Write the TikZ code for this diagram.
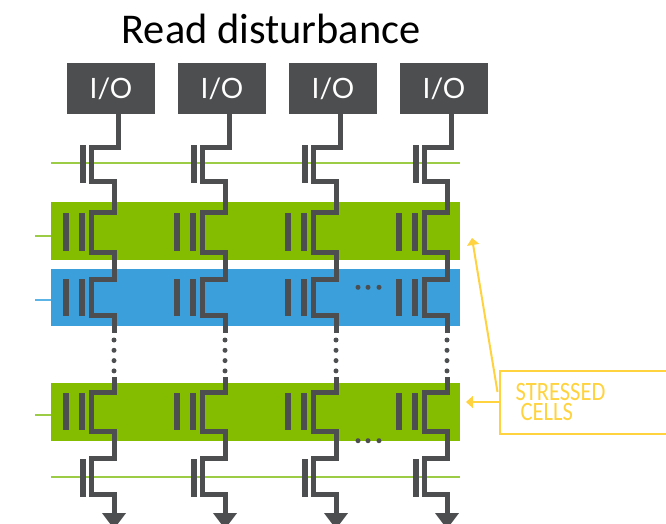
\documentclass[tikz,border=0pt]{standalone}
\usepackage{fontspec}
\setmainfont{Carlito}
\newfontfamily\iofont{Lato}
\newfontfamily\calloutfont[FakeStretch=0.85]{Carlito}
\usetikzlibrary{arrows.meta}

\definecolor{wiregray}{HTML}{4D4E50}
\definecolor{bandgreen}{HTML}{84BC00}
\definecolor{bandblue}{HTML}{3A9FDB}
\definecolor{linegreen}{HTML}{9CCB45}
\definecolor{lineblue}{HTML}{5CB3E6}
\definecolor{noteyellow}{HTML}{FFD33F}

\tikzset{
  iobox/.style={fill=wiregray, text=white, minimum width=88, minimum height=51, inner sep=0,
    font=\iofont\fontsize{28}{30}\selectfont},
  band/.style={minimum width=409, minimum height=58, inner sep=0},
  gatebar/.style={fill=wiregray, minimum width=6, minimum height=37.5, inner sep=0},
  wire/.style={draw=wiregray, line width=5, miter limit=10},
  wordline/.style={draw=linegreen, line width=2},
  dotline/.style={draw=wiregray, line width=5, line cap=round, dash pattern=on 0pt off 10.3pt},
  dotmark/.style={fill=wiregray, circle, minimum size=5, inner sep=0},
  notearrow/.style={draw=noteyellow, line width=2, -{Triangle[width=12,length=7]}},
}

\begin{document}
\begin{tikzpicture}[x=1pt, y=-1pt]
  \useasboundingbox (0,0) rectangle (666,523);
  \node (title) at (271,29) {\fontsize{42.4}{46}\selectfont Read disturbance};

  % word lines and bands
  \coordinate (wlTop) at (51,163);
  \coordinate (wlBot) at (51,477);
  \coordinate (stubA) at (35,236);
  \coordinate (stubB) at (35,300);
  \coordinate (stubC) at (35,415);
  \draw[wordline] (wlTop) -- ++(409,0);
  \draw[wordline] (wlBot) -- ++(409,0);
  \node[band, fill=bandgreen] (bandA) at (255.5,230.6) {};
  \node[band, fill=bandblue, minimum height=57.3] (bandB) at (255.5,297.4) {};
  \node[band, fill=bandgreen] (bandC) at (255.5,411.7) {};
  \draw[wordline] (stubA) -- (stubA -| bandA.west);
  \draw[wordline, draw=lineblue] (stubB) -- (stubB -| bandB.west);
  \draw[wordline] (stubC) -- (stubC -| bandC.west);

  % bit lines
  \foreach \c/\x in {1/0, 2/111, 3/222, 4/333} {
    \begin{scope}[xshift=\x]
      \node[iobox] (io\c) at (111,88.5) {I/O};
      \node[gatebar] (sgTop\c) at (83,164) {};
      \node[gatebar] (sgBot\c) at (83,477.8) {};
      \node[gatebar] (cellAl\c) at (66.3,232) {};
      \node[gatebar] (cellAr\c) at (82,232) {};
      \node[gatebar] (cellBl\c) at (66.3,297.5) {};
      \node[gatebar] (cellBr\c) at (82,297.5) {};
      \node[gatebar] (cellCl\c) at (66.3,411.3) {};
      \node[gatebar] (cellCr\c) at (82,411.3) {};
      \coordinate (upEnd\c) at (114,333);
      \coordinate (lowStart\c) at (114,377);
      \coordinate (ground\c) at (114,529);
      \draw[wire] ([xshift=7.7]io\c.south) |- (91.3,147.7) |- (114,181.7) |- (91.3,212.7)
        |- (114,252.3) |- (91.3,279) |- (114,315) -- (upEnd\c);
      \draw[dotline] (114,340) -- (114,372);
      \draw[wire, -{Triangle[width=23,length=16]}] (lowStart\c) |- (91.3,392) |- (114,431.7)
        |- (91.3,458) |- (114,494) -- (ground\c);
    \end{scope}
  }

  % ellipses
  \foreach \i/\x in {1/358, 2/368, 3/379} {
    \node[dotmark] (dotsB\i) at (\x,287.3) {};
    \node[dotmark] (dotsC\i) at (\x,440.7) {};
  }

  % callout
  \node[draw=noteyellow, line width=2, minimum height=63, text width=154, inner xsep=16, inner ysep=0,
    anchor=west, align=left, text=noteyellow, font=\calloutfont\fontsize{26.5}{20.5}\selectfont]
    (stressed) at (498.7,402) {STRESSED\\[-1pt]\hspace*{5pt}CELLS};
  \coordinate (tipA) at (472,238);
  \coordinate (tipC) at (466,402);
  \coordinate (tailA) at (497.5,392);
  \draw[notearrow] (tailA) -- (tipA);
  \draw[notearrow] (stressed.west) -- (tipC);
\end{tikzpicture}
\end{document}
